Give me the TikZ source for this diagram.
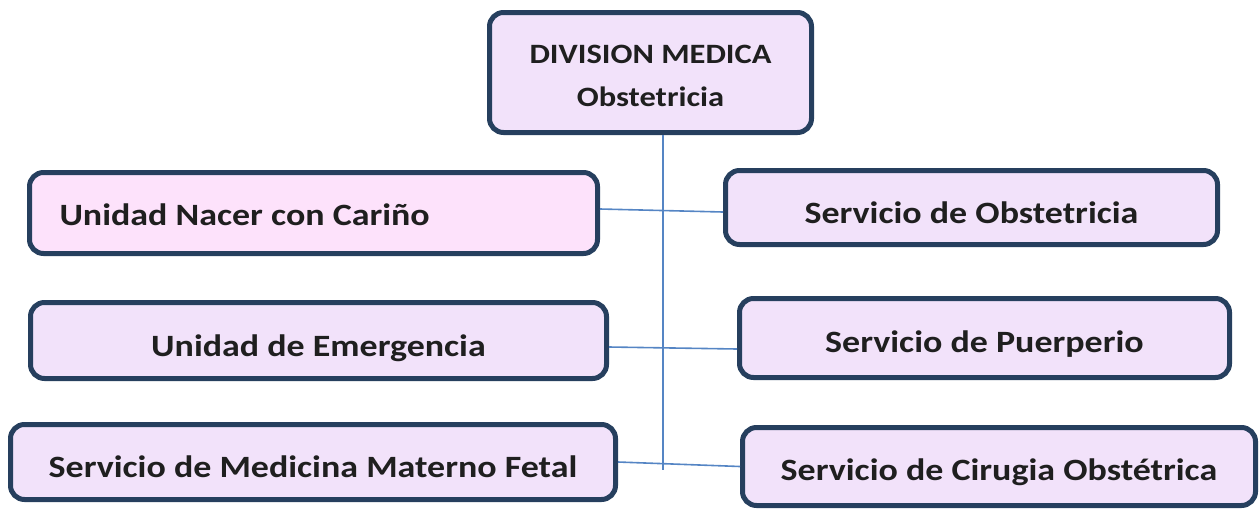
\documentclass[tikz,border=0pt]{standalone}
\usepackage{fontspec}
\setmainfont{Carlito}[FakeStretch=1.16]
\definecolor{bordc}{HTML}{263F5E}
\definecolor{fillv}{HTML}{F2E2FA}
\definecolor{fillp}{HTML}{FDE2FB}
\definecolor{linec}{HTML}{5585C4}
\newcommand\lowr[2]{\raisebox{-#1pt}[\height][\depth]{#2}}
\begin{document}
\begin{tikzpicture}[x=1pt,y=-1pt,
  box/.style={draw=bordc, line width=5pt, rounded corners=14pt, fill=fillv,
    font=\fontsize{31}{43}\selectfont\bfseries, text=black!88, inner sep=0pt, align=center},
  conn/.style={draw=linec, line width=1.6pt}]
\useasboundingbox (0,0) rectangle (1260,512);
\node[box, minimum width=322pt, minimum height=120pt, font=\fontsize{28}{43}\selectfont\bfseries] (top) at (650.5,72.5)
  {\lowr{4}{\begin{tabular}{@{}c@{}}DIVISION MEDICA\\Obstetricia\end{tabular}}};
\node[box, fill=fillp, minimum width=568pt, minimum height=81pt, text width=508pt, align=flush left] (L1) at (313.5,213) {\lowr{2}{Unidad Nacer con Cariño}};
\node[box, minimum width=492pt, minimum height=74pt] (R1) at (971.5,207.5) {\lowr{5}{Servicio de Obstetricia}};
\node[box, minimum width=576pt, minimum height=76pt] (L2) at (318.5,340.5) {\lowr{8}{Unidad de Emergencia}};
\node[box, minimum width=490pt, minimum height=79pt] (R2) at (984.5,338) {\lowr{6}{Servicio de Puerperio}};
\node[box, minimum width=605pt, minimum height=75pt] (L3) at (313,462) {\lowr{5}{Servicio de Medicina Materno Fetal}};
\node[box, minimum width=513pt, minimum height=78pt] (R3) at (999,466.5) {\lowr{6}{Servicio de Cirugia Obstétrica}};
\coordinate (vb) at (663,470);
\draw[conn] (top.south -| vb) -- (vb);
\draw[conn] ([yshift=4pt]L1.east) -- ([yshift=-4.5pt]R1.west);
\draw[conn] ([yshift=-6.5pt]L2.east) -- ([yshift=-11pt]R2.west);
\draw[conn] (L3.east) -- (R3.west);
\end{tikzpicture}
\end{document}
